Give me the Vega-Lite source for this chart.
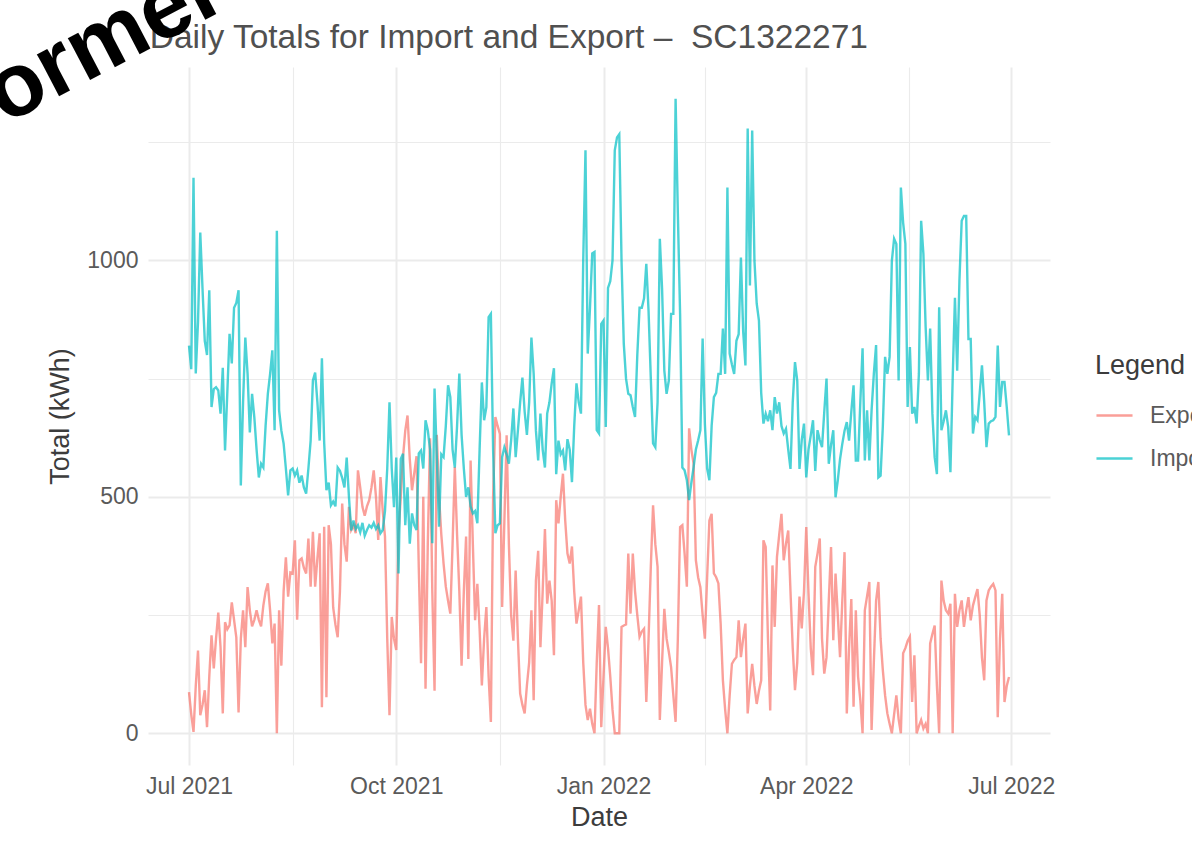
{
"$schema": "https://vega.github.io/schema/vega-lite/v6.json",
"width": 902,
"height": 698,
"autosize": {"type": "none"},
"padding": {"left": 148, "top": 67, "right": 142, "bottom": 101},
"background": "white",
"config": {"view": {"stroke": null}},
"layer": [
{
"data": {"values": [
{"Date":"2021-07-01","Export":87,"Import":820},
{"Date":"2021-07-02","Export":40,"Import":770},
{"Date":"2021-07-03","Export":3,"Import":1175},
{"Date":"2021-07-04","Export":100,"Import":761},
{"Date":"2021-07-05","Export":175,"Import":870},
{"Date":"2021-07-06","Export":38,"Import":1059},
{"Date":"2021-07-07","Export":60,"Import":940},
{"Date":"2021-07-08","Export":91,"Import":830},
{"Date":"2021-07-09","Export":13,"Import":800},
{"Date":"2021-07-10","Export":120,"Import":937},
{"Date":"2021-07-11","Export":207,"Import":690},
{"Date":"2021-07-12","Export":137,"Import":728},
{"Date":"2021-07-13","Export":200,"Import":732},
{"Date":"2021-07-14","Export":255,"Import":725},
{"Date":"2021-07-15","Export":182,"Import":676},
{"Date":"2021-07-16","Export":42,"Import":773},
{"Date":"2021-07-17","Export":235,"Import":598},
{"Date":"2021-07-18","Export":220,"Import":720},
{"Date":"2021-07-19","Export":228,"Import":845},
{"Date":"2021-07-20","Export":277,"Import":782},
{"Date":"2021-07-21","Export":240,"Import":900},
{"Date":"2021-07-22","Export":203,"Import":910},
{"Date":"2021-07-23","Export":44,"Import":937},
{"Date":"2021-07-24","Export":200,"Import":524},
{"Date":"2021-07-25","Export":260,"Import":700},
{"Date":"2021-07-26","Export":182,"Import":837},
{"Date":"2021-07-27","Export":309,"Import":760},
{"Date":"2021-07-28","Export":260,"Import":636},
{"Date":"2021-07-29","Export":226,"Import":718},
{"Date":"2021-07-30","Export":240,"Import":668},
{"Date":"2021-07-31","Export":260,"Import":600},
{"Date":"2021-08-01","Export":240,"Import":541},
{"Date":"2021-08-02","Export":226,"Import":570},
{"Date":"2021-08-03","Export":270,"Import":562},
{"Date":"2021-08-04","Export":300,"Import":650},
{"Date":"2021-08-05","Export":317,"Import":718},
{"Date":"2021-08-06","Export":260,"Import":760},
{"Date":"2021-08-07","Export":190,"Import":810},
{"Date":"2021-08-08","Export":232,"Import":641},
{"Date":"2021-08-09","Export":0,"Import":1063},
{"Date":"2021-08-10","Export":260,"Import":683},
{"Date":"2021-08-11","Export":143,"Import":640},
{"Date":"2021-08-12","Export":300,"Import":613},
{"Date":"2021-08-13","Export":372,"Import":560},
{"Date":"2021-08-14","Export":289,"Import":503},
{"Date":"2021-08-15","Export":340,"Import":556},
{"Date":"2021-08-16","Export":338,"Import":560},
{"Date":"2021-08-17","Export":408,"Import":545},
{"Date":"2021-08-18","Export":240,"Import":556},
{"Date":"2021-08-19","Export":366,"Import":530},
{"Date":"2021-08-20","Export":370,"Import":545},
{"Date":"2021-08-21","Export":350,"Import":520},
{"Date":"2021-08-22","Export":338,"Import":507},
{"Date":"2021-08-23","Export":412,"Import":560},
{"Date":"2021-08-24","Export":310,"Import":619},
{"Date":"2021-08-25","Export":426,"Import":746},
{"Date":"2021-08-26","Export":310,"Import":763},
{"Date":"2021-08-27","Export":370,"Import":700},
{"Date":"2021-08-28","Export":423,"Import":619},
{"Date":"2021-08-29","Export":55,"Import":793},
{"Date":"2021-08-30","Export":437,"Import":615},
{"Date":"2021-08-31","Export":76,"Import":514},
{"Date":"2021-09-01","Export":440,"Import":530},
{"Date":"2021-09-02","Export":400,"Import":482},
{"Date":"2021-09-03","Export":266,"Import":490},
{"Date":"2021-09-04","Export":230,"Import":480},
{"Date":"2021-09-05","Export":203,"Import":562},
{"Date":"2021-09-06","Export":300,"Import":555},
{"Date":"2021-09-07","Export":486,"Import":540},
{"Date":"2021-09-08","Export":400,"Import":520},
{"Date":"2021-09-09","Export":363,"Import":583},
{"Date":"2021-09-10","Export":479,"Import":500},
{"Date":"2021-09-11","Export":430,"Import":429},
{"Date":"2021-09-12","Export":440,"Import":450},
{"Date":"2021-09-13","Export":423,"Import":432},
{"Date":"2021-09-14","Export":556,"Import":440},
{"Date":"2021-09-15","Export":520,"Import":425},
{"Date":"2021-09-16","Export":479,"Import":445},
{"Date":"2021-09-17","Export":460,"Import":418},
{"Date":"2021-09-18","Export":480,"Import":430},
{"Date":"2021-09-19","Export":493,"Import":440},
{"Date":"2021-09-20","Export":520,"Import":435},
{"Date":"2021-09-21","Export":556,"Import":445},
{"Date":"2021-09-22","Export":500,"Import":432},
{"Date":"2021-09-23","Export":409,"Import":440},
{"Date":"2021-09-24","Export":542,"Import":423},
{"Date":"2021-09-25","Export":470,"Import":430},
{"Date":"2021-09-26","Export":416,"Import":470},
{"Date":"2021-09-27","Export":200,"Import":560},
{"Date":"2021-09-28","Export":38,"Import":700},
{"Date":"2021-09-29","Export":246,"Import":560},
{"Date":"2021-09-30","Export":200,"Import":478},
{"Date":"2021-10-01","Export":176,"Import":583},
{"Date":"2021-10-02","Export":423,"Import":338},
{"Date":"2021-10-03","Export":500,"Import":580},
{"Date":"2021-10-04","Export":584,"Import":591},
{"Date":"2021-10-05","Export":640,"Import":440},
{"Date":"2021-10-06","Export":672,"Import":520},
{"Date":"2021-10-07","Export":580,"Import":401},
{"Date":"2021-10-08","Export":514,"Import":465},
{"Date":"2021-10-09","Export":550,"Import":440},
{"Date":"2021-10-10","Export":586,"Import":430},
{"Date":"2021-10-11","Export":350,"Import":592},
{"Date":"2021-10-12","Export":148,"Import":598},
{"Date":"2021-10-13","Export":500,"Import":560},
{"Date":"2021-10-14","Export":94,"Import":662},
{"Date":"2021-10-15","Export":400,"Import":641},
{"Date":"2021-10-16","Export":624,"Import":600},
{"Date":"2021-10-17","Export":300,"Import":402},
{"Date":"2021-10-18","Export":90,"Import":729},
{"Date":"2021-10-19","Export":631,"Import":584},
{"Date":"2021-10-20","Export":500,"Import":437},
{"Date":"2021-10-21","Export":420,"Import":590},
{"Date":"2021-10-22","Export":359,"Import":584},
{"Date":"2021-10-23","Export":310,"Import":650},
{"Date":"2021-10-24","Export":280,"Import":736},
{"Date":"2021-10-25","Export":253,"Import":711},
{"Date":"2021-10-26","Export":400,"Import":600},
{"Date":"2021-10-27","Export":563,"Import":562},
{"Date":"2021-10-28","Export":420,"Import":650},
{"Date":"2021-10-29","Export":300,"Import":761},
{"Date":"2021-10-30","Export":143,"Import":631},
{"Date":"2021-10-31","Export":300,"Import":560},
{"Date":"2021-11-01","Export":416,"Import":500},
{"Date":"2021-11-02","Export":157,"Import":520},
{"Date":"2021-11-03","Export":577,"Import":480},
{"Date":"2021-11-04","Export":400,"Import":465},
{"Date":"2021-11-05","Export":239,"Import":470},
{"Date":"2021-11-06","Export":316,"Import":444},
{"Date":"2021-11-07","Export":220,"Import":600},
{"Date":"2021-11-08","Export":101,"Import":742},
{"Date":"2021-11-09","Export":200,"Import":662},
{"Date":"2021-11-10","Export":267,"Import":690},
{"Date":"2021-11-11","Export":120,"Import":880},
{"Date":"2021-11-12","Export":24,"Import":887},
{"Date":"2021-11-13","Export":500,"Import":598},
{"Date":"2021-11-14","Export":669,"Import":423},
{"Date":"2021-11-15","Export":650,"Import":440},
{"Date":"2021-11-16","Export":633,"Import":444},
{"Date":"2021-11-17","Export":267,"Import":584},
{"Date":"2021-11-18","Export":450,"Import":605},
{"Date":"2021-11-19","Export":630,"Import":590},
{"Date":"2021-11-20","Export":400,"Import":570},
{"Date":"2021-11-21","Export":250,"Import":620},
{"Date":"2021-11-22","Export":196,"Import":687},
{"Date":"2021-11-23","Export":344,"Import":584},
{"Date":"2021-11-24","Export":200,"Import":640},
{"Date":"2021-11-25","Export":84,"Import":700},
{"Date":"2021-11-26","Export":60,"Import":752},
{"Date":"2021-11-27","Export":42,"Import":680},
{"Date":"2021-11-28","Export":101,"Import":631},
{"Date":"2021-11-29","Export":150,"Import":700},
{"Date":"2021-11-30","Export":260,"Import":837},
{"Date":"2021-12-01","Export":70,"Import":760},
{"Date":"2021-12-02","Export":323,"Import":640},
{"Date":"2021-12-03","Export":386,"Import":577},
{"Date":"2021-12-04","Export":182,"Import":676},
{"Date":"2021-12-05","Export":300,"Import":600},
{"Date":"2021-12-06","Export":432,"Import":562},
{"Date":"2021-12-07","Export":274,"Import":676},
{"Date":"2021-12-08","Export":323,"Import":700},
{"Date":"2021-12-09","Export":280,"Import":740},
{"Date":"2021-12-10","Export":165,"Import":772},
{"Date":"2021-12-11","Export":493,"Import":548},
{"Date":"2021-12-12","Export":444,"Import":619},
{"Date":"2021-12-13","Export":500,"Import":590},
{"Date":"2021-12-14","Export":549,"Import":598},
{"Date":"2021-12-15","Export":450,"Import":556},
{"Date":"2021-12-16","Export":380,"Import":622},
{"Date":"2021-12-17","Export":359,"Import":600},
{"Date":"2021-12-18","Export":395,"Import":531},
{"Date":"2021-12-19","Export":300,"Import":650},
{"Date":"2021-12-20","Export":232,"Import":740},
{"Date":"2021-12-21","Export":260,"Import":700},
{"Date":"2021-12-22","Export":289,"Import":676},
{"Date":"2021-12-23","Export":150,"Import":1000},
{"Date":"2021-12-24","Export":60,"Import":1233},
{"Date":"2021-12-25","Export":28,"Import":803},
{"Date":"2021-12-26","Export":52,"Import":900},
{"Date":"2021-12-27","Export":20,"Import":1015},
{"Date":"2021-12-28","Export":0,"Import":1018},
{"Date":"2021-12-29","Export":150,"Import":641},
{"Date":"2021-12-30","Export":271,"Import":634},
{"Date":"2021-12-31","Export":13,"Import":866},
{"Date":"2022-01-01","Export":120,"Import":873},
{"Date":"2022-01-02","Export":225,"Import":648},
{"Date":"2022-01-03","Export":180,"Import":942},
{"Date":"2022-01-04","Export":120,"Import":956},
{"Date":"2022-01-05","Export":50,"Import":1000},
{"Date":"2022-01-06","Export":0,"Import":1233},
{"Date":"2022-01-07","Export":0,"Import":1260},
{"Date":"2022-01-08","Export":0,"Import":1267},
{"Date":"2022-01-09","Export":225,"Import":1000},
{"Date":"2022-01-10","Export":228,"Import":824},
{"Date":"2022-01-11","Export":230,"Import":750},
{"Date":"2022-01-12","Export":380,"Import":718},
{"Date":"2022-01-13","Export":253,"Import":715},
{"Date":"2022-01-14","Export":380,"Import":690},
{"Date":"2022-01-15","Export":300,"Import":669},
{"Date":"2022-01-16","Export":250,"Import":800},
{"Date":"2022-01-17","Export":204,"Import":900},
{"Date":"2022-01-18","Export":215,"Import":900},
{"Date":"2022-01-19","Export":221,"Import":920},
{"Date":"2022-01-20","Export":66,"Import":993},
{"Date":"2022-01-21","Export":200,"Import":893},
{"Date":"2022-01-22","Export":352,"Import":750},
{"Date":"2022-01-23","Export":482,"Import":613},
{"Date":"2022-01-24","Export":400,"Import":605},
{"Date":"2022-01-25","Export":352,"Import":700},
{"Date":"2022-01-26","Export":28,"Import":1046},
{"Date":"2022-01-27","Export":150,"Import":940},
{"Date":"2022-01-28","Export":263,"Import":767},
{"Date":"2022-01-29","Export":200,"Import":718},
{"Date":"2022-01-30","Export":172,"Import":746},
{"Date":"2022-01-31","Export":140,"Import":887},
{"Date":"2022-02-01","Export":80,"Import":887},
{"Date":"2022-02-02","Export":24,"Import":1342},
{"Date":"2022-02-03","Export":200,"Import":1100},
{"Date":"2022-02-04","Export":436,"Import":887},
{"Date":"2022-02-05","Export":440,"Import":562},
{"Date":"2022-02-06","Export":380,"Import":556},
{"Date":"2022-02-07","Export":310,"Import":535},
{"Date":"2022-02-08","Export":645,"Import":493},
{"Date":"2022-02-09","Export":600,"Import":530},
{"Date":"2022-02-10","Export":570,"Import":563},
{"Date":"2022-02-11","Export":366,"Import":600},
{"Date":"2022-02-12","Export":330,"Import":619},
{"Date":"2022-02-13","Export":309,"Import":641},
{"Date":"2022-02-14","Export":250,"Import":835},
{"Date":"2022-02-15","Export":200,"Import":654},
{"Date":"2022-02-16","Export":330,"Import":560},
{"Date":"2022-02-17","Export":450,"Import":535},
{"Date":"2022-02-18","Export":464,"Import":650},
{"Date":"2022-02-19","Export":338,"Import":711},
{"Date":"2022-02-20","Export":330,"Import":720},
{"Date":"2022-02-21","Export":317,"Import":760},
{"Date":"2022-02-22","Export":232,"Import":760},
{"Date":"2022-02-23","Export":112,"Import":856},
{"Date":"2022-02-24","Export":50,"Import":760},
{"Date":"2022-02-25","Export":0,"Import":1154},
{"Date":"2022-02-26","Export":80,"Import":803},
{"Date":"2022-02-27","Export":147,"Import":780},
{"Date":"2022-02-28","Export":155,"Import":760},
{"Date":"2022-03-01","Export":161,"Import":830},
{"Date":"2022-03-02","Export":239,"Import":844},
{"Date":"2022-03-03","Export":161,"Import":1006},
{"Date":"2022-03-04","Export":200,"Import":850},
{"Date":"2022-03-05","Export":232,"Import":778},
{"Date":"2022-03-06","Export":42,"Import":1279},
{"Date":"2022-03-07","Export":100,"Import":947},
{"Date":"2022-03-08","Export":147,"Import":1275},
{"Date":"2022-03-09","Export":100,"Import":1000},
{"Date":"2022-03-10","Export":62,"Import":909},
{"Date":"2022-03-11","Export":90,"Import":873},
{"Date":"2022-03-12","Export":112,"Import":720},
{"Date":"2022-03-13","Export":408,"Import":655},
{"Date":"2022-03-14","Export":394,"Import":676},
{"Date":"2022-03-15","Export":200,"Import":660},
{"Date":"2022-03-16","Export":48,"Import":683},
{"Date":"2022-03-17","Export":355,"Import":641},
{"Date":"2022-03-18","Export":225,"Import":711},
{"Date":"2022-03-19","Export":373,"Import":676},
{"Date":"2022-03-20","Export":420,"Import":700},
{"Date":"2022-03-21","Export":464,"Import":650},
{"Date":"2022-03-22","Export":366,"Import":634},
{"Date":"2022-03-23","Export":401,"Import":644},
{"Date":"2022-03-24","Export":429,"Import":600},
{"Date":"2022-03-25","Export":300,"Import":559},
{"Date":"2022-03-26","Export":180,"Import":700},
{"Date":"2022-03-27","Export":91,"Import":785},
{"Date":"2022-03-28","Export":150,"Import":746},
{"Date":"2022-03-29","Export":289,"Import":559},
{"Date":"2022-03-30","Export":222,"Import":620},
{"Date":"2022-03-31","Export":300,"Import":655},
{"Date":"2022-04-01","Export":436,"Import":541},
{"Date":"2022-04-02","Export":296,"Import":600},
{"Date":"2022-04-03","Export":180,"Import":630},
{"Date":"2022-04-04","Export":123,"Import":662},
{"Date":"2022-04-05","Export":352,"Import":555},
{"Date":"2022-04-06","Export":380,"Import":641},
{"Date":"2022-04-07","Export":412,"Import":620},
{"Date":"2022-04-08","Export":200,"Import":605},
{"Date":"2022-04-09","Export":126,"Import":680},
{"Date":"2022-04-10","Export":161,"Import":750},
{"Date":"2022-04-11","Export":280,"Import":570},
{"Date":"2022-04-12","Export":394,"Import":610},
{"Date":"2022-04-13","Export":197,"Import":641},
{"Date":"2022-04-14","Export":338,"Import":499},
{"Date":"2022-04-15","Export":250,"Import":535},
{"Date":"2022-04-16","Export":161,"Import":580},
{"Date":"2022-04-17","Export":280,"Import":612},
{"Date":"2022-04-18","Export":383,"Import":640},
{"Date":"2022-04-19","Export":42,"Import":658},
{"Date":"2022-04-20","Export":180,"Import":619},
{"Date":"2022-04-21","Export":284,"Import":680},
{"Date":"2022-04-22","Export":56,"Import":736},
{"Date":"2022-04-23","Export":260,"Import":577},
{"Date":"2022-04-24","Export":120,"Import":577},
{"Date":"2022-04-25","Export":70,"Import":700},
{"Date":"2022-04-26","Export":0,"Import":814},
{"Date":"2022-04-27","Export":260,"Import":577},
{"Date":"2022-04-28","Export":290,"Import":683},
{"Date":"2022-04-29","Export":320,"Import":577},
{"Date":"2022-04-30","Export":7,"Import":683},
{"Date":"2022-05-01","Export":150,"Import":760},
{"Date":"2022-05-02","Export":280,"Import":821},
{"Date":"2022-05-03","Export":320,"Import":541},
{"Date":"2022-05-04","Export":200,"Import":545},
{"Date":"2022-05-05","Export":133,"Import":650},
{"Date":"2022-05-06","Export":80,"Import":796},
{"Date":"2022-05-07","Export":42,"Import":760},
{"Date":"2022-05-08","Export":20,"Import":796},
{"Date":"2022-05-09","Export":0,"Import":999},
{"Date":"2022-05-10","Export":40,"Import":1046},
{"Date":"2022-05-11","Export":80,"Import":1035},
{"Date":"2022-05-12","Export":30,"Import":746},
{"Date":"2022-05-13","Export":0,"Import":1154},
{"Date":"2022-05-14","Export":169,"Import":1080},
{"Date":"2022-05-15","Export":180,"Import":1035},
{"Date":"2022-05-16","Export":195,"Import":690},
{"Date":"2022-05-17","Export":204,"Import":817},
{"Date":"2022-05-18","Export":66,"Import":676},
{"Date":"2022-05-19","Export":165,"Import":690},
{"Date":"2022-05-20","Export":0,"Import":655},
{"Date":"2022-05-21","Export":15,"Import":760},
{"Date":"2022-05-22","Export":28,"Import":1084},
{"Date":"2022-05-23","Export":10,"Import":1014},
{"Date":"2022-05-24","Export":20,"Import":859},
{"Date":"2022-05-25","Export":0,"Import":746},
{"Date":"2022-05-26","Export":190,"Import":856},
{"Date":"2022-05-27","Export":210,"Import":676},
{"Date":"2022-05-28","Export":228,"Import":584},
{"Date":"2022-05-29","Export":100,"Import":548},
{"Date":"2022-05-30","Export":0,"Import":901},
{"Date":"2022-05-31","Export":323,"Import":641},
{"Date":"2022-06-01","Export":280,"Import":660},
{"Date":"2022-06-02","Export":260,"Import":683},
{"Date":"2022-06-03","Export":253,"Import":648},
{"Date":"2022-06-04","Export":274,"Import":552},
{"Date":"2022-06-05","Export":0,"Import":750},
{"Date":"2022-06-06","Export":295,"Import":921},
{"Date":"2022-06-07","Export":225,"Import":767},
{"Date":"2022-06-08","Export":260,"Import":958},
{"Date":"2022-06-09","Export":281,"Import":1084},
{"Date":"2022-06-10","Export":225,"Import":1094},
{"Date":"2022-06-11","Export":260,"Import":1094},
{"Date":"2022-06-12","Export":288,"Import":834},
{"Date":"2022-06-13","Export":239,"Import":834},
{"Date":"2022-06-14","Export":270,"Import":634},
{"Date":"2022-06-15","Export":288,"Import":669},
{"Date":"2022-06-16","Export":305,"Import":662},
{"Date":"2022-06-17","Export":250,"Import":720},
{"Date":"2022-06-18","Export":160,"Import":778},
{"Date":"2022-06-19","Export":112,"Import":700},
{"Date":"2022-06-20","Export":281,"Import":605},
{"Date":"2022-06-21","Export":302,"Import":655},
{"Date":"2022-06-22","Export":310,"Import":660},
{"Date":"2022-06-23","Export":316,"Import":662},
{"Date":"2022-06-24","Export":302,"Import":669},
{"Date":"2022-06-25","Export":34,"Import":820},
{"Date":"2022-06-26","Export":200,"Import":690},
{"Date":"2022-06-27","Export":295,"Import":743},
{"Date":"2022-06-28","Export":66,"Import":743},
{"Date":"2022-06-29","Export":100,"Import":690},
{"Date":"2022-06-30","Export":119,"Import":630}
]},
"transform": [{"fold": ["Export", "Import"], "as": ["Legend", "Total"]}],
"mark": {"type": "line", "strokeWidth": 2.4, "opacity": 0.7},
"encoding": {
"x": {"field": "Date", "type": "temporal",
"scale": {"type": "utc", "domain": [{"year": 2021, "month": 6, "date": 12, "hours": 19, "minutes": 12, "utc": true}, {"year": 2022, "month": 7, "date": 18, "hours": 4, "minutes": 48, "utc": true}]},
"axis": {"title": "Date",
"values": [{"year": 2021, "month": 7, "date": 1, "utc": true}, {"year": 2021, "month": 8, "date": 16, "utc": true}, {"year": 2021, "month": 10, "date": 1, "utc": true}, {"year": 2021, "month": 11, "date": 16, "utc": true}, {"year": 2022, "month": 1, "date": 1, "utc": true}, {"year": 2022, "month": 2, "date": 15, "utc": true}, {"year": 2022, "month": 4, "date": 1, "utc": true}, {"year": 2022, "month": 5, "date": 16, "hours": 12, "utc": true}, {"year": 2022, "month": 7, "date": 1, "utc": true}],
"labelExpr": "utcdate(datum.value) == 1 ? utcFormat(datum.value, '%b %Y') : ''",
"ticks": false, "domain": false, "grid": true, "gridColor": "#EBEBEB",
"gridWidth": {"condition": {"test": "utcdate(datum.value) != 1", "value": 1.1}, "value": 2},
"labelFont": "Liberation Sans", "labelFontSize": 23, "labelColor": "#5A5A5A", "labelPadding": 10, "labelOverlap": false, "labelFlush": false,
"titleFont": "Liberation Sans", "titleFontSize": 27, "titleFontWeight": "normal", "titleColor": "#3C3C3C", "titlePadding": 6}},
"y": {"field": "Total", "type": "quantitative",
"scale": {"domain": [-67.1, 1409.1], "nice": false, "zero": false},
"axis": {"title": "Total (kWh)", "values": [0, 250, 500, 750, 1000, 1250],
"labelExpr": "datum.value % 500 == 0 ? format(datum.value, 'd') : ''",
"ticks": false, "domain": false, "grid": true, "gridColor": "#EBEBEB",
"gridWidth": {"condition": {"test": "datum.value % 500 != 0", "value": 1.1}, "value": 2},
"labelFont": "Liberation Sans", "labelFontSize": 23, "labelColor": "#5A5A5A", "labelPadding": 10,
"titleFont": "Liberation Sans", "titleFontSize": 27, "titleFontWeight": "normal", "titleColor": "#3C3C3C", "titlePadding": 12}},
"color": {"field": "Legend", "type": "nominal",
"scale": {"domain": ["Export", "Import"], "range": ["#F8766D", "#00BFC4"]},
"legend": {"title": "Legend", "orient": "none", "legendX": 947, "legendY": 286,
"titleFont": "Liberation Sans", "titleFontSize": 27, "titleFontWeight": "normal", "titleColor": "#3C3C3C", "titlePadding": 16,
"labelFont": "Liberation Sans", "labelFontSize": 23, "labelColor": "#5A5A5A", "labelOffset": 16,
"symbolType": "stroke", "symbolSize": 1300, "symbolStrokeWidth": 2.5, "symbolOpacity": 0.7, "rowPadding": 11}}
}
},
{
"data": {"values": [{"label": "Daily Totals for Import and Export – \u00a0SC1322271"}]},
"mark": {"type": "text", "align": "left", "baseline": "middle", "font": "Liberation Sans", "fontSize": 33.5, "color": "#505050"},
"encoding": {
"x": {"datum": {"year": 2021, "month": 6, "date": 13, "hours": 14, "utc": true}, "type": "temporal"},
"y": {"datum": 1471, "type": "quantitative"},
"text": {"field": "label"}
}
},
{
"data": {"values": [{"label": "ormer"}]},
"mark": {"type": "text", "angle": 332.4, "align": "left", "baseline": "alphabetic", "font": "Liberation Sans", "fontWeight": "bold", "fontSize": 90, "color": "#000000"},
"encoding": {
"x": {"datum": {"year": 2021, "month": 4, "date": 10, "hours": 5, "utc": true}, "type": "temporal"},
"y": {"datum": 1287, "type": "quantitative"},
"text": {"field": "label"}
}
}
]
}
